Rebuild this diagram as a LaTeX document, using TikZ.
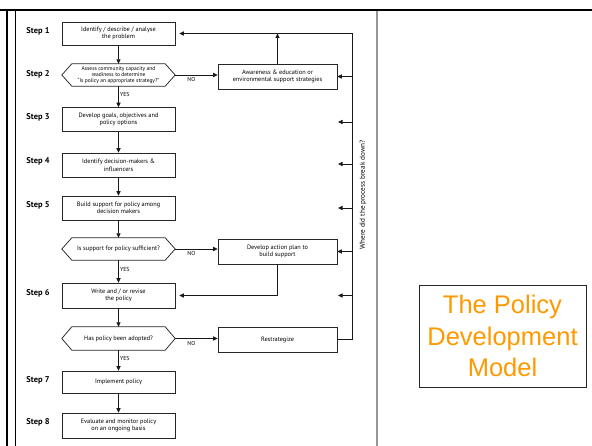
\documentclass[tikz,border=0pt]{standalone}
\usepackage{fontspec}
\setmainfont{PT Sans}
\newfontfamily\titlefont{Liberation Sans}
\usetikzlibrary{arrows.meta}

\definecolor{titleorange}{RGB}{255,153,0}
\definecolor{framegray}{RGB}{150,150,150}

\begin{document}
\begin{tikzpicture}[x=1pt,y=-1pt,
  every node/.style={inner sep=1pt},
  stepbox/.style={draw=black!85, line width=0.75pt, minimum width=113pt,
    minimum height=24pt, align=center, font=\fontsize{6.3}{7.6}\selectfont},
  sidebox/.style={stepbox, minimum width=119pt, minimum height=25pt},
  hexnode/.style={minimum width=113pt, minimum height=22pt, align=center,
    font=\fontsize{6.3}{7.6}\selectfont},
  hexline/.style={draw=black!85, line width=0.75pt},
  steplabel/.style={font=\bfseries\fontsize{8.4}{10}\selectfont},
  flow/.style={draw=black!90, line width=0.75pt,
    -{Triangle[length=4.5pt,width=4.2pt]}},
  yes/.style={right, font=\fontsize{5.8}{6.5}\selectfont, inner sep=1.2pt},
  no/.style={below, font=\fontsize{5.8}{6.5}\selectfont, inner sep=2pt},
]
\useasboundingbox (0,0) rectangle (592,446);

% page frame
\draw[line width=2.6pt] (0,10) -- (592,10);
\draw[line width=2.2pt] (7,10) -- (7,446);
\draw[line width=0.8pt] (15,11) -- (15,446);
\draw[framegray, line width=1.3pt] (377,11) -- (377,446);

% step labels
\node[steplabel] (l1) at (38,31) {Step 1};
\node[steplabel] (l2) at (38,74) {Step 2};
\node[steplabel] (l3) at (38,117) {Step 3};
\node[steplabel] (l4) at (38,161) {Step 4};
\node[steplabel] (l5) at (38,205) {Step 5};
\node[steplabel] (l6) at (38,293) {Step 6};
\node[steplabel] (l7) at (38,380) {Step 7};
\node[steplabel] (l8) at (38,422) {Step 8};

% main column
\node[stepbox, minimum height=23pt] (s1) at (118.5,33.5) {Identify / describe / analyse\\the problem};
\node[hexnode, font=\fontsize{5.5}{6.3}\selectfont] (h1) at (118.5,75) {Assess community capacity and\\readiness to determine\\“Is policy an appropriate strategy?”};
\node[stepbox] (s3) at (118.5,119.5) {Develop goals, objectives and\\policy options};
\node[stepbox] (s4) at (118.5,165) {Identify decision-makers \&\\influencers};
\node[stepbox] (s5) at (118.5,208) {Build support for policy among\\decision makers};
\node[hexnode] (h2) at (118.5,249) {Is support for policy sufficient?};
\node[stepbox, minimum height=25pt] (s6) at (118.5,295.5) {Write and / or revise\\the policy};
\node[hexnode, minimum height=23pt] (h3) at (118.5,338.5) {Has policy been adopted?};
\node[stepbox, minimum height=22pt] (s7) at (118.5,382) {Implement policy};
\node[stepbox, minimum height=25pt] (s8) at (118.5,425.5) {Evaluate and monitor policy\\on an ongoing basis};

% hexagonal decision outlines
\foreach \h in {h1,h2,h3}
  \draw[hexline] (\h.west) -- ([xshift=10pt]\h.north west) -- ([xshift=-10pt]\h.north east)
    -- (\h.east) -- ([xshift=-10pt]\h.south east) -- ([xshift=10pt]\h.south west) -- cycle;

% side column
\node[sidebox] (aw) at (277.5,76.5) {Awareness \& education or\\environmental support strategies};
\node[sidebox] (ap) at (277.5,251.5) {Develop action plan to\\build support};
\node[sidebox] (rs) at (277.5,339.5) {Restrategize};

% downward flow
\draw[flow] (s1) -- (h1);
\draw[flow] (h1) -- node[yes, pos=0.4]{YES} (s3);
\draw[flow] (s3) -- (s4);
\draw[flow] (s4) -- (s5);
\draw[flow] (s5) -- (h2);
\draw[flow] (h2) -- node[yes, pos=0.4]{YES} (s6);
\draw[flow] (s6) -- (h3);
\draw[flow] (h3) -- node[yes, pos=0.4]{YES} (s7);
\draw[flow] (s7) -- (s8);

% NO branches
\draw[flow] (h1.east) -- node[no, pos=0.38]{NO} (h1.east -| aw.west);
\draw[flow] (h2.east) -- node[no, pos=0.38]{NO} (h2.east -| ap.west);
\draw[flow] (h3.east) -- node[no, pos=0.38]{NO} (h3.east -| rs.west);

% return paths
\coordinate (vt) at (352,33.5);
\draw[flow, shorten >=4pt] (rs.east) -| (vt) -- (vt -| s1.east);
\draw[flow] (aw.north) -- (aw.north |- vt);
\draw[flow, shorten >=4pt] (ap.south) |- (s6.east);

% "where did it break down" stubs
\draw[flow] (aw.east -| vt) -- (aw.east);
\draw[flow] (ap.east -| vt) -- (ap.east);
\foreach \y/\n in {122/a,164/b,208/c,295.5/d} {
  \coordinate (k\n) at (352,\y);
  \coordinate (e\n) at (338,\y);
  \draw[flow] (k\n) -- (e\n);
}
\node[rotate=90, font=\fontsize{7.2}{8}\selectfont] (why) at (363,195) {Where did the process break down?};

% title box
\node[draw=black!85, line width=0.9pt, minimum width=167pt, minimum height=102pt,
  align=center, text=titleorange, font=\titlefont\fontsize{25.5}{31.5}\selectfont]
  (title) at (502.5,336) {The Policy\\Development\\Model};
\end{tikzpicture}
\end{document}
